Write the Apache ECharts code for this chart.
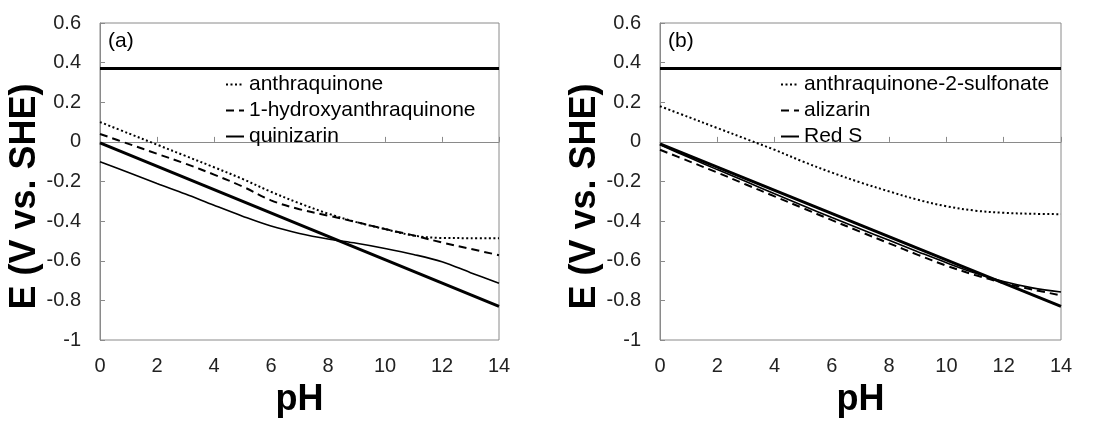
<!DOCTYPE html>
<html>
<head>
<meta charset="utf-8">
<script src="https://cdn.jsdelivr.net/npm/echarts@6/dist/echarts.min.js"></script>
<style>
  html, body { margin: 0; padding: 0; background: #fff; }
  #chart { width: 1109px; height: 423px; }
</style>
</head>
<body>
<div id="chart"></div>
<script>
// pH grid shared by all computed curves
const pH = [0, 1, 2, 3, 4, 5, 6, 7, 8, 9, 10, 11, 12, 13, 14];
const pHEnds = [0, 14];

// Panel (a)
const anthraquinone = [0.10, 0.043, -0.014, -0.071, -0.128, -0.187, -0.252, -0.31, -0.362, -0.405, -0.44, -0.473, -0.485, -0.486, -0.487];
const hydroxyAQ = [0.04, -0.01, -0.06, -0.11, -0.165, -0.225, -0.295, -0.34, -0.372, -0.405, -0.44, -0.472, -0.508, -0.54, -0.572];
const quinizarin = [-0.10, -0.155, -0.21, -0.263, -0.32, -0.375, -0.425, -0.462, -0.49, -0.512, -0.538, -0.568, -0.605, -0.66, -0.714];
const upperA = [0.37, 0.37];
const lowerA = [-0.005, -0.83];

// Panel (b)
const aqSulfonate = [0.18, 0.125, 0.07, 0.015, -0.04, -0.10, -0.155, -0.205, -0.25, -0.292, -0.325, -0.347, -0.358, -0.363, -0.365];
const alizarin = [-0.04, -0.097, -0.155, -0.215, -0.275, -0.335, -0.395, -0.454, -0.512, -0.57, -0.625, -0.672, -0.712, -0.745, -0.775];
const redS = [-0.015, -0.078, -0.14, -0.2, -0.262, -0.322, -0.382, -0.44, -0.497, -0.554, -0.61, -0.662, -0.705, -0.737, -0.758];
const upperB = [0.37, 0.37];
const lowerB = [-0.01, -0.83];

const yTicks = { min: -1, max: 0.6, interval: 0.2 };
const xTicks = { min: 0, max: 14, interval: 2 };

const FONT = '"Liberation Sans", Arial, sans-serif';
const AXIS_GREY = '#8a8a8a';

const pairs = (xs, ys) => xs.map((x, i) => [x, ys[i]]);

function xAxisFor(gridIndex) {
  return {
    type: 'value', gridIndex,
    min: xTicks.min, max: xTicks.max, interval: xTicks.interval,
    name: 'pH', nameLocation: 'middle', nameGap: 42,
    nameTextStyle: { fontFamily: FONT, fontSize: 36, fontWeight: 'bold', color: '#000' },
    axisLine: { show: true, lineStyle: { color: AXIS_GREY, width: 1 } },
    axisTick: { show: true, inside: true, length: 5, lineStyle: { color: AXIS_GREY } },
    axisLabel: { fontFamily: FONT, fontSize: 20, color: '#222', margin: 16 },
    splitLine: { show: false }
  };
}
function yAxisFor(gridIndex) {
  return {
    type: 'value', gridIndex,
    min: yTicks.min, max: yTicks.max, interval: yTicks.interval,
    name: 'E (V vs. SHE)', nameLocation: 'middle', nameGap: 55, nameRotate: 90,
    nameTextStyle: { fontFamily: FONT, fontSize: 36, fontWeight: 'bold', color: '#000', padding: [0, 30, 0, 0] },
    axisLine: { show: true, lineStyle: { color: AXIS_GREY, width: 1 } },
    axisTick: { show: true, inside: true, length: 5, lineStyle: { color: AXIS_GREY } },
    axisLabel: { fontFamily: FONT, fontSize: 20, color: '#222', margin: 19 },
    splitLine: { show: false }
  };
}

function line(name, gi, xs, ys, width, dash, smooth) {
  return {
    name, type: 'line', xAxisIndex: gi, yAxisIndex: gi,
    data: pairs(xs, ys), symbol: 'none', smooth: smooth ? 0.35 : false,
    silent: true, animation: false,
    itemStyle: { color: '#000' },
    lineStyle: { color: '#000', width, type: dash || 'solid' }
  };
}

const DOT = [2, 2.5];
const DASH = [8, 5];

const legendBase = {
  orient: 'vertical', top: 74, padding: 0,
  itemWidth: 18, itemHeight: 12, itemGap: 5,
  itemStyle: { opacity: 0 },
  textStyle: { fontFamily: FONT, fontSize: 21, color: '#000', lineHeight: 21 },
  selectedMode: false
};

const option = {
  backgroundColor: '#fff',
  animation: false,
  grid: [
    { left: 100, right: 610, top: 23, bottom: 83, show: true, borderColor: AXIS_GREY, borderWidth: 1 },
    { left: 660, right: 48, top: 23, bottom: 83, show: true, borderColor: AXIS_GREY, borderWidth: 1 }
  ],
  xAxis: [xAxisFor(0), xAxisFor(1)],
  yAxis: [yAxisFor(0), yAxisFor(1)],
  legend: [
    Object.assign({}, legendBase, {
      data: ['anthraquinone', '1-hydroxyanthraquinone', 'quinizarin'], left: 225
    }),
    Object.assign({}, legendBase, {
      data: ['anthraquinone-2-sulfonate', 'alizarin', 'Red S'], left: 780
    })
  ],
  graphic: [
    { type: 'text', left: 108, top: 31, style: { text: '(a)', font: '21px ' + FONT, fill: '#000' } },
    { type: 'text', left: 668, top: 31, style: { text: '(b)', font: '21px ' + FONT, fill: '#000' } }
  ],
  series: [
    line('upperA', 0, pHEnds, upperA, 3),
    line('lowerA', 0, pHEnds, lowerA, 3),
    line('anthraquinone', 0, pH, anthraquinone, 2, DOT, true),
    line('1-hydroxyanthraquinone', 0, pH, hydroxyAQ, 2, DASH, true),
    line('quinizarin', 0, pH, quinizarin, 1.6, 'solid', true),
    line('upperB', 1, pHEnds, upperB, 3),
    line('lowerB', 1, pHEnds, lowerB, 3),
    line('anthraquinone-2-sulfonate', 1, pH, aqSulfonate, 2, DOT, true),
    line('alizarin', 1, pH, alizarin, 2, DASH, true),
    line('Red S', 1, pH, redS, 1.6, 'solid', true)
  ]
};

const chart = echarts.init(document.getElementById('chart'), null, { renderer: 'canvas' });
chart.setOption(option);
</script>
</body>
</html>
